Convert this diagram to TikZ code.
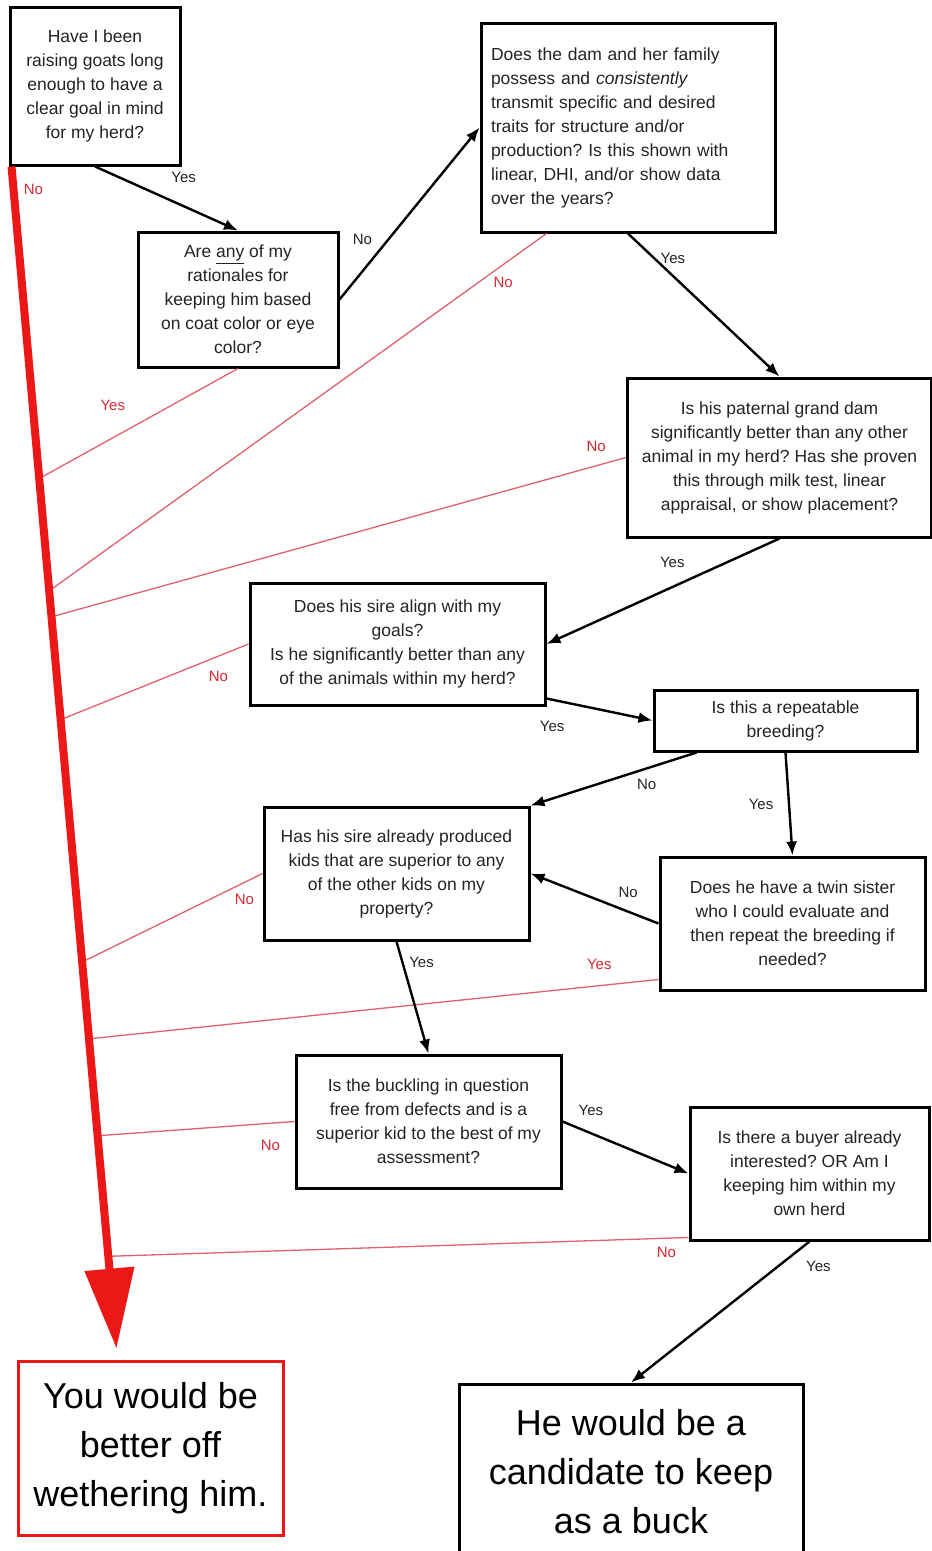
\documentclass[tikz,border=0pt]{standalone}
\usepackage{fontspec}
\setmainfont{Liberation Sans}
\usetikzlibrary{positioning,calc,arrows.meta}
\definecolor{inkgray}{RGB}{35,35,35}
\definecolor{wetherred}{RGB}{236,24,24}
\definecolor{noline}{RGB}{224,96,108}
\definecolor{nolabel}{RGB}{212,44,50}
\frenchspacing

\begin{document}
\begin{tikzpicture}[x=1pt,y=1pt,on grid,
    question/.style={draw,line width=3pt,text=inkgray,align=center,
      inner sep=0pt,font=\fontsize{17.5}{24}\selectfont},
    verdict/.style={draw,line width=3pt,align=center,inner sep=0pt,
      font=\fontsize{36}{49}\selectfont},
    choice/.style={-{Latex[length=14pt,width=11pt]},line width=2.4pt},
    reject/.style={noline,line width=1.3pt},
    answer/.style={text=inkgray,font=\fontsize{15}{18}\selectfont},
    redanswer/.style={text=nolabel,font=\fontsize{15}{18}\selectfont}]
  \useasboundingbox (0,0) rectangle (932,-1551);

  % questions
  \node[question,minimum width=170pt,minimum height=158pt] (goal) at (95,-86)
    {Have I been\\raising goats long\\enough to have a\\clear goal in mind\\for my herd?};
  \node[question,minimum width=200pt,minimum height=135pt] (color) [below right=213.5pt and 143pt of goal]
    {Are \underline{any} of my\\rationales for\\keeping him based\\on coat color or eye\\color?};
  \node[question,align=left,text width=274pt,inner xsep=10pt,minimum height=209pt] (dam) [below right=41.5pt and 533pt of goal]
    {Does the dam and her family\\possess and \textit{consistently}\\transmit specific and desired\\traits for structure and/or\\production? Is this shown with\\linear, DHI, and/or show data\\over the years?};
  \node[question,minimum width=304pt,minimum height=159pt] (granddam) [below right=330pt and 151.5pt of dam]
    {Is his paternal grand dam\\significantly better than any other\\animal in my herd? Has she proven\\this through milk test, linear\\appraisal, or show placement?};
  \node[question,minimum width=295pt,minimum height=122pt] (sire) [below left=186.5pt and 382pt of granddam]
    {Does his sire align with my\\goals?\\Is he significantly better than any\\of the animals within my herd?};
  \node[question,minimum width=263pt,minimum height=61pt] (repeat) [below right=76.5pt and 388pt of sire]
    {Is this a repeatable\\breeding?};
  \node[question,minimum width=265pt,minimum height=133pt] (kids) [below left=153pt and 389pt of repeat]
    {Has his sire already produced\\kids that are superior to any\\of the other kids on my\\property?};
  \node[question,minimum width=265pt,minimum height=133pt] (twin) [below right=50pt and 396pt of kids]
    {Does he have a twin sister\\who I could evaluate and\\then repeat the breeding if\\needed?};
  \node[question,minimum width=265pt,minimum height=133pt] (defects) [below right=248pt and 32pt of kids]
    {Is the buckling in question\\free from defects and is a\\superior kid to the best of my\\assessment?};
  \node[question,minimum width=239pt,minimum height=133pt] (buyer) [below right=52pt and 381pt of defects]
    {Is there a buyer already\\interested? OR Am I\\keeping him within my\\own herd};

  % outcomes
  \node[verdict,draw=wetherred,minimum width=265pt,minimum height=174pt] (wether) [below left=326.5pt and 278pt of defects]
    {You would be\\better off\\wethering him.};
  \node[verdict,minimum width=344pt,minimum height=176pt] (buck) [below left=298.5pt and 178.5pt of buyer]
    {He would be a\\candidate to keep\\as a buck};

  % the red trunk and where the "no" lines meet it
  \coordinate (top) at ([xshift=3pt]goal.south west);
  \coordinate (tip) at ([xshift=-34pt,yshift=11pt]wether.north);
  \coordinate (j1) at ($(top)!0.264!(tip)$);
  \coordinate (j2) at ($(top)!0.359!(tip)$);
  \coordinate (j3) at ($(top)!0.381!(tip)$);
  \coordinate (j4) at ($(top)!0.468!(tip)$);
  \coordinate (j5) at ($(top)!0.673!(tip)$);
  \coordinate (j6) at ($(top)!0.738!(tip)$);
  \coordinate (j7) at ($(top)!0.820!(tip)$);
  \coordinate (j8) at ($(top)!0.922!(tip)$);

  \draw[reject] (color.south) -- node[redanswer,pos=.63,yshift=32pt]{Yes} (j1);
  \draw[reject] ([xshift=67pt]dam.south west) -- node[redanswer,pos=.087,yshift=-18pt]{No} (j2);
  \draw[reject] (granddam.west) -- node[redanswer,pos=.052,yshift=19pt]{No} (j3);
  \draw[reject] (sire.west) -- node[redanswer,pos=.16,yshift=-20pt]{No} (j4);
  \draw[reject] (kids.west) -- node[redanswer,pos=.1,yshift=-17pt]{No} (j5);
  \draw[reject] ([yshift=12pt]twin.south west) -- node[redanswer,pos=.104,yshift=21pt]{Yes} (j6);
  \draw[reject] (defects.west) -- node[redanswer,pos=.122,yshift=-22.5pt]{No} (j7);
  \draw[reject] ([yshift=4pt]buyer.south west) -- node[redanswer,pos=.038,yshift=-14pt]{No} (j8);

  \draw[wetherred,line width=8pt,-{Triangle[width=48pt,length=80pt]}] (top) -- node[redanswer,pos=.019,xshift=20pt]{No} (tip);

  % the yes/no path
  \draw[choice] (goal.south) -- node[answer,pos=.62,yshift=29pt]{Yes} (color.north);
  \draw[choice] (color.east) -- node[answer,pos=.35,xshift=-26pt]{No} (dam.west);
  \draw[choice] (dam.south) -- node[answer,pos=.171,xshift=19pt]{Yes} (granddam.north);
  \draw[choice] (granddam.south) -- node[answer,pos=.46,yshift=25pt]{Yes} (sire.east);
  \draw[choice] ([yshift=8pt]sire.south east) -- node[answer,pos=.1,xshift=-5pt,yshift=-26pt]{Yes} (repeat.west);
  \draw[choice] ([xshift=44pt]repeat.south west) -- node[answer,pos=.3,yshift=-16pt]{No} (kids.north east);
  \draw[choice] (repeat.south) -- node[answer,pos=.5,xshift=-28pt]{Yes} (twin.north);
  \draw[choice] (twin.west) -- node[answer,pos=.237,yshift=19pt]{No} (kids.east);
  \draw[choice] (kids.south) -- node[answer,pos=.19,xshift=19pt]{Yes} (defects.north);
  \draw[choice] (defects.east) -- node[answer,pos=.225,yshift=23pt]{Yes} (buyer.west);
  \draw[choice] (buyer.south) -- node[answer,pos=.174,xshift=40pt]{Yes} (buck.north);
\end{tikzpicture}
\end{document}
